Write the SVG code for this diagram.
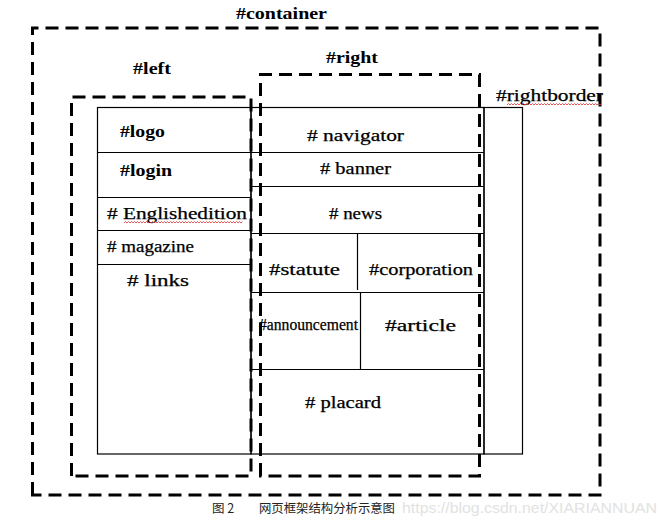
<svg xmlns="http://www.w3.org/2000/svg" width="665" height="525" viewBox="0 0 665 525">
<style>
.dash{fill:none;stroke:#000;stroke-width:3;stroke-dasharray:13 7}
.box{fill:none;stroke:#000;stroke-width:1.2}
.ln{stroke:#000;stroke-width:1.2}
.tb{font-family:"Liberation Serif",serif;font-weight:bold;font-size:17px;fill:#000}
.tm{font-family:"Liberation Serif",serif;font-size:16px;fill:#000;stroke:#000;stroke-width:0.25}
.cap{font-family:"Noto Sans CJK SC",sans-serif;font-size:12.5px;fill:#222}
.wm{font-family:"Liberation Sans",sans-serif;font-size:14.5px;fill:#e2e2e2}
.wavy{fill:none;stroke:#e03030;stroke-width:0.8}
</style>
<rect width="665" height="525" fill="#fff"/>
<g id="connectors"></g>
<g id="container">
  <path class="dash" d="M32.5,495 V28 H600 V495 Z"/>
  <text class="tb" x="236" y="19" textLength="91" lengthAdjust="spacingAndGlyphs">#container</text>
</g>
<g id="left">
  <path class="dash" d="M71.5,476 V97 H251 V476 Z"/>
  <text class="tb" x="133" y="74" textLength="38" lengthAdjust="spacingAndGlyphs">#left</text>
</g>
<g id="right">
  <path class="dash" d="M260.5,476 V74.5 H479.5 V476 Z"/>
  <text class="tb" x="326" y="63" textLength="52" lengthAdjust="spacingAndGlyphs">#right</text>
</g>
<g id="leftbox">
  <rect class="box" x="97.5" y="107.5" width="153.5" height="346.5"/>
  <line class="ln" x1="97.5" y1="152.5" x2="251" y2="152.5"/>
  <line class="ln" x1="97.5" y1="197.5" x2="251" y2="197.5"/>
  <line class="ln" x1="97.5" y1="230.5" x2="251" y2="230.5"/>
  <line class="ln" x1="97.5" y1="264.5" x2="251" y2="264.5"/>
</g>
<g id="logo"><text class="tb" x="120" y="137" textLength="45" lengthAdjust="spacingAndGlyphs">#logo</text></g>
<g id="login"><text class="tb" x="120" y="176" textLength="52" lengthAdjust="spacingAndGlyphs">#login</text></g>
<g id="englishedition">
  <text class="tm" x="107" y="219" textLength="140" lengthAdjust="spacingAndGlyphs"># Englishedition</text>
  <path class="wavy" d="M124,223 l1.5,-1.5 l1.5,1.5 l1.5,-1.5 l1.5,1.5 l1.5,-1.5 l1.5,1.5 l1.5,-1.5 l1.5,1.5 l1.5,-1.5 l1.5,1.5 l1.5,-1.5 l1.5,1.5 l1.5,-1.5 l1.5,1.5 l1.5,-1.5 l1.5,1.5 l1.5,-1.5 l1.5,1.5 l1.5,-1.5 l1.5,1.5 l1.5,-1.5 l1.5,1.5 l1.5,-1.5 l1.5,1.5 l1.5,-1.5 l1.5,1.5 l1.5,-1.5 l1.5,1.5 l1.5,-1.5 l1.5,1.5 l1.5,-1.5 l1.5,1.5 l1.5,-1.5 l1.5,1.5 l1.5,-1.5 l1.5,1.5 l1.5,-1.5 l1.5,1.5 l1.5,-1.5 l1.5,1.5 l1.5,-1.5 l1.5,1.5 l1.5,-1.5 l1.5,1.5 l1.5,-1.5 l1.5,1.5 l1.5,-1.5 l1.5,1.5 l1.5,-1.5 l1.5,1.5 l1.5,-1.5 l1.5,1.5 l1.5,-1.5 l1.5,1.5 l1.5,-1.5 l1.5,1.5 l1.5,-1.5 l1.5,1.5 l1.5,-1.5 l1.5,1.5 l1.5,-1.5 l1.5,1.5 l1.5,-1.5 l1.5,1.5 l1.5,-1.5 l1.5,1.5 l1.5,-1.5 l1.5,1.5 l1.5,-1.5 l1.5,1.5 l1.5,-1.5 l1.5,1.5 l1.5,-1.5 l1.5,1.5 l1.5,-1.5 l1.5,1.5 l1.5,-1.5 l1.5,1.5 l1.5,-1.5"/>
</g>
<g id="magazine"><text class="tm" x="107" y="252" textLength="87" lengthAdjust="spacingAndGlyphs"># magazine</text></g>
<g id="links"><text class="tm" x="127" y="286" textLength="62" lengthAdjust="spacingAndGlyphs"># links</text></g>
<g id="rightbox">
  <rect class="box" x="251" y="107.5" width="233" height="346.5"/>
  <line class="ln" x1="251" y1="152.5" x2="484" y2="152.5"/>
  <line class="ln" x1="251" y1="186.5" x2="484" y2="186.5"/>
  <line class="ln" x1="251" y1="233.5" x2="484" y2="233.5"/>
  <line class="ln" x1="251" y1="292.5" x2="484" y2="292.5"/>
  <line class="ln" x1="251" y1="369.5" x2="484" y2="369.5"/>
  <line class="ln" x1="357.5" y1="233.5" x2="357.5" y2="290"/>
  <line class="ln" x1="360.5" y1="292.5" x2="360.5" y2="369.5"/>
</g>
<g id="navigator"><text class="tm" x="307" y="141" textLength="97" lengthAdjust="spacingAndGlyphs"># navigator</text></g>
<g id="banner"><text class="tm" x="320" y="174" textLength="71" lengthAdjust="spacingAndGlyphs"># banner</text></g>
<g id="news"><text class="tm" x="329" y="219" textLength="53" lengthAdjust="spacingAndGlyphs"># news</text></g>
<g id="statute"><text class="tm" x="269" y="275" textLength="71" lengthAdjust="spacingAndGlyphs">#statute</text></g>
<g id="corporation"><text class="tm" x="369" y="275" textLength="104" lengthAdjust="spacingAndGlyphs">#corporation</text></g>
<g id="announcement"><text class="tm" x="259" y="330" textLength="99" lengthAdjust="spacingAndGlyphs">#announcement</text></g>
<g id="article"><text class="tm" x="385" y="331" textLength="71" lengthAdjust="spacingAndGlyphs">#article</text></g>
<g id="placard"><text class="tm" x="305" y="408" textLength="76" lengthAdjust="spacingAndGlyphs"># placard</text></g>
<g id="rightborder">
  <rect class="box" x="484" y="107.5" width="38.5" height="346.5"/>
  <text class="tm" x="496" y="101" textLength="107" lengthAdjust="spacingAndGlyphs">#rightborder</text>
  <path class="wavy" d="M507,105 l1.5,-1.5 l1.5,1.5 l1.5,-1.5 l1.5,1.5 l1.5,-1.5 l1.5,1.5 l1.5,-1.5 l1.5,1.5 l1.5,-1.5 l1.5,1.5 l1.5,-1.5 l1.5,1.5 l1.5,-1.5 l1.5,1.5 l1.5,-1.5 l1.5,1.5 l1.5,-1.5 l1.5,1.5 l1.5,-1.5 l1.5,1.5 l1.5,-1.5 l1.5,1.5 l1.5,-1.5 l1.5,1.5 l1.5,-1.5 l1.5,1.5 l1.5,-1.5 l1.5,1.5 l1.5,-1.5 l1.5,1.5 l1.5,-1.5 l1.5,1.5 l1.5,-1.5 l1.5,1.5 l1.5,-1.5 l1.5,1.5 l1.5,-1.5 l1.5,1.5 l1.5,-1.5 l1.5,1.5 l1.5,-1.5 l1.5,1.5 l1.5,-1.5 l1.5,1.5 l1.5,-1.5 l1.5,1.5 l1.5,-1.5 l1.5,1.5 l1.5,-1.5 l1.5,1.5 l1.5,-1.5 l1.5,1.5 l1.5,-1.5 l1.5,1.5 l1.5,-1.5 l1.5,1.5 l1.5,-1.5 l1.5,1.5 l1.5,-1.5 l1.5,1.5 l1.5,-1.5 l1.5,1.5 l1.5,-1.5"/>
</g>
<g id="caption">
  <text class="cap" x="212" y="513">图 2</text>
  <text class="cap" x="259" y="513" textLength="136" lengthAdjust="spacingAndGlyphs">网页框架结构分析示意图</text>
  <text class="wm" x="402" y="513" textLength="255" lengthAdjust="spacingAndGlyphs">https://blog.csdn.net/XIARIANNUAN</text>
</g>
</svg>
